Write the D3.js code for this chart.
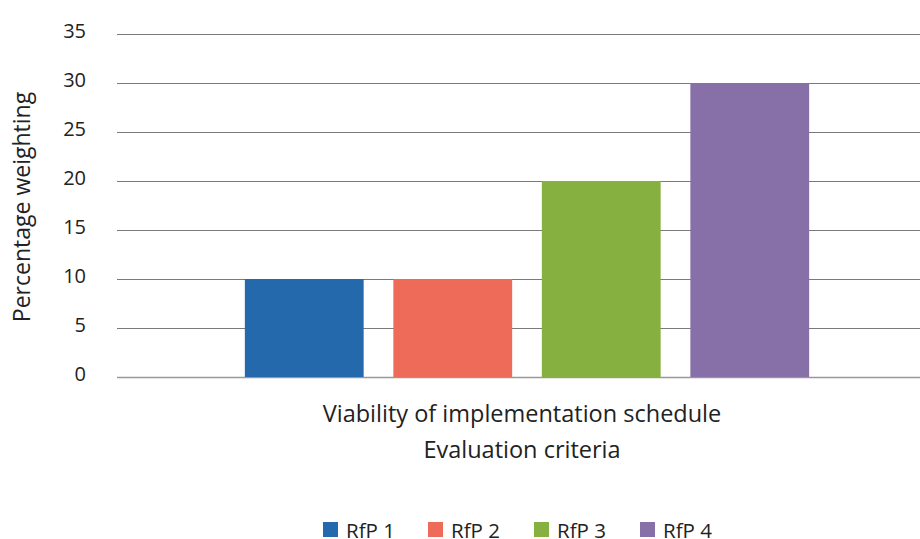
<!DOCTYPE html>
<html><head><meta charset="utf-8">
<script src="https://cdn.jsdelivr.net/npm/d3@7"></script>
<style>body{margin:0;background:#fff}svg{display:block;font-family:"Open Sans",sans-serif}</style>
</head><body>
<svg id="c" width="920" height="539"></svg>
<script>
const series = ["RfP 1","RfP 2","RfP 3","RfP 4"];
const values = [10,10,20,30];
const colors = ["#2569ad","#ee6b5a","#86b03f","#8770a8"];
const yTicks = [0,5,10,15,20,25,30,35];
const category = "Viability of implementation schedule";
const xTitle = "Evaluation criteria";
const yTitle = "Percentage weighting";

const svg = d3.select("#c");
const y = d3.scaleLinear().domain([0,35]).range([377,34]);
const x = d3.scaleBand().domain(series).range([230,824]).paddingInner(0.2).paddingOuter(0.1);

const g = svg.append("g");
g.selectAll("line.grid").data(yTicks).join("line")
  .attr("x1",117).attr("x2",920)
  .attr("y1",d=>Math.round(y(d))+0.5).attr("y2",d=>Math.round(y(d))+0.5)
  .attr("stroke",d=>d===0?"#999":"#7a7a7a").attr("stroke-width",d=>d===0?1.5:1);

g.selectAll("text.tick").data(yTicks).join("text")
  .attr("x",86).attr("y",d=>y(d)-3).attr("dy","0.35em")
  .attr("text-anchor","end").attr("font-size",20).attr("fill","#222")
  .text(d=>d);

g.selectAll("rect.bar").data(values).join("rect")
  .attr("x",(d,i)=>x(series[i])).attr("width",x.bandwidth())
  .attr("y",d=>y(d)).attr("height",d=>y(0)-y(d))
  .attr("fill",(d,i)=>colors[i]);

svg.append("text").attr("x",522).attr("y",422).attr("text-anchor","middle")
  .attr("font-size",23.5).attr("fill","#222").text(category);
svg.append("text").attr("x",522).attr("y",458).attr("text-anchor","middle")
  .attr("font-size",23.5).attr("fill","#222").text(xTitle);
svg.append("text").attr("transform","translate(30,207) rotate(-90)").attr("text-anchor","middle")
  .attr("font-size",23).attr("fill","#222").text(yTitle);

const lx = [323,428,534,640];
const lg = svg.selectAll("g.leg").data(series).join("g").attr("transform",(d,i)=>`translate(${lx[i]},522)`);
lg.append("rect").attr("width",15).attr("height",15).attr("fill",(d,i)=>colors[i]);
lg.append("text").attr("x",23).attr("y",15.5).attr("font-size",20.5).attr("fill","#222").text(d=>d);
</script>
</body></html>
